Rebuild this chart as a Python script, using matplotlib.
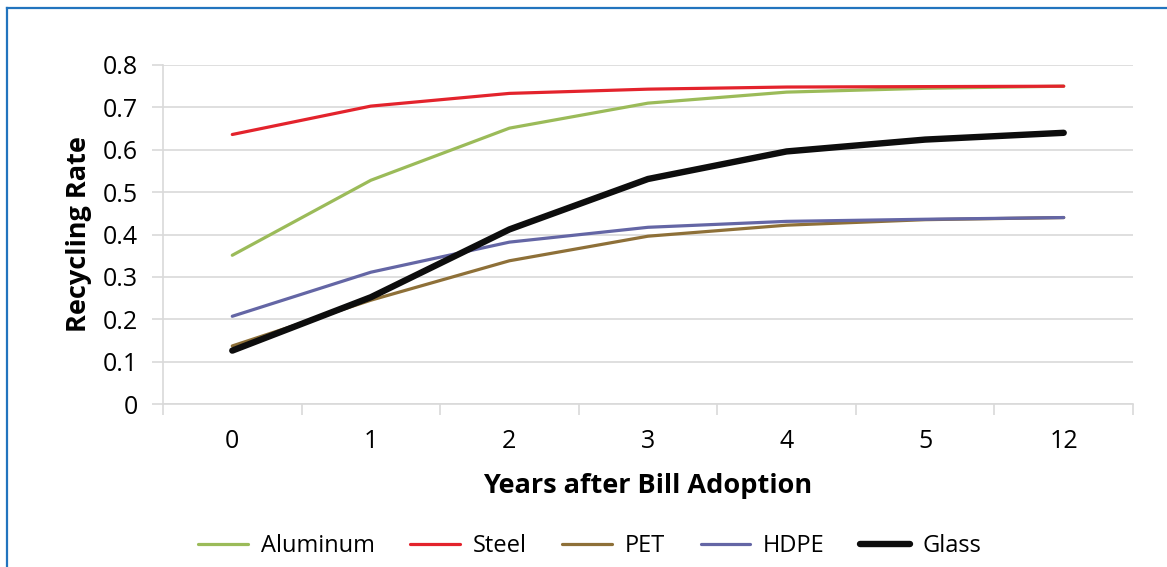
import matplotlib
matplotlib.use("Agg")
import matplotlib.pyplot as plt
from matplotlib.lines import Line2D
from matplotlib.ticker import FixedLocator

plt.rcParams['font.family'] = ['Open Sans', 'DejaVu Sans']

years = ["0", "1", "2", "3", "4", "5", "12"]
aluminum = [0.351, 0.528, 0.651, 0.710, 0.736, 0.745, 0.750]
steel = [0.636, 0.703, 0.733, 0.743, 0.748, 0.749, 0.750]
pet = [0.137, 0.245, 0.338, 0.396, 0.422, 0.435, 0.440]
hdpe = [0.207, 0.311, 0.382, 0.417, 0.431, 0.436, 0.440]
glass = [0.126, 0.252, 0.412, 0.531, 0.596, 0.624, 0.640]
y_ticks = [0, 0.1, 0.2, 0.3, 0.4, 0.5, 0.6, 0.7, 0.8]
y_labels = ["0", "0.1", "0.2", "0.3", "0.4", "0.5", "0.6", "0.7", "0.8"]

series = [
    ("Aluminum", aluminum, "#9BBB59", 2.3),
    ("Steel", steel, "#E3232C", 2.3),
    ("PET", pet, "#8E7038", 2.3),
    ("HDPE", hdpe, "#6466A5", 2.3),
    ("Glass", glass, "#0D0D0D", 4.6),
]

fig = plt.figure(figsize=(11.67, 5.67), dpi=100)
ax = fig.add_axes([163/1167, 1-404/567, (1133-163)/1167, (404-65)/567])

x = list(range(len(years)))
for name, vals, col, lw in series:
    ax.plot(x, vals, color=col, lw=lw, label=name, solid_capstyle='round', solid_joinstyle='round')

grid_c = "#D9D9D9"
ax.set_xlim(-0.5, len(years) - 0.5)
ax.set_ylim(0, 0.8)
ax.set_yticks(y_ticks)
ax.set_yticklabels(y_labels)
ax.set_xticks(x)
ax.set_xticklabels(years)
ax.xaxis.set_minor_locator(FixedLocator([i - 0.5 for i in range(len(years) + 1)]))
ax.tick_params(axis='x', which='major', length=0, pad=18, labelsize=18)
ax.tick_params(axis='x', which='minor', length=8, width=1.2, color=grid_c, direction='out')
ax.tick_params(axis='y', which='major', length=8, width=1.2, color=grid_c, pad=10, labelsize=18)
ax.grid(axis='y', color=grid_c, lw=1.2)
ax.set_axisbelow(True)
for s in ['top', 'right']:
    ax.spines[s].set_visible(False)
for s in ['left', 'bottom']:
    ax.spines[s].set_color(grid_c)
    ax.spines[s].set_linewidth(1.2)

ax.set_xlabel("Years after Bill Adoption", fontsize=19.5, fontweight='bold', labelpad=14)
ax.set_ylabel("Recycling Rate", fontsize=19.5, fontweight='bold', labelpad=8)

ax.legend(loc='lower center', bbox_to_anchor=(0.5056, -0.022), bbox_transform=fig.transFigure,
          ncol=5, frameon=False, fontsize=17, handlelength=2.1, handletextpad=0.55,
          columnspacing=1.5)

border_c = "#2274BE"
fig.add_artist(Line2D([6.5/1167, 6.5/1167], [0, 1-8/567], transform=fig.transFigure, color=border_c, lw=1.6))
fig.add_artist(Line2D([6.5/1167, 1], [1-8/567, 1-8/567], transform=fig.transFigure, color=border_c, lw=1.6))

fig.savefig("out.png", dpi=100)
